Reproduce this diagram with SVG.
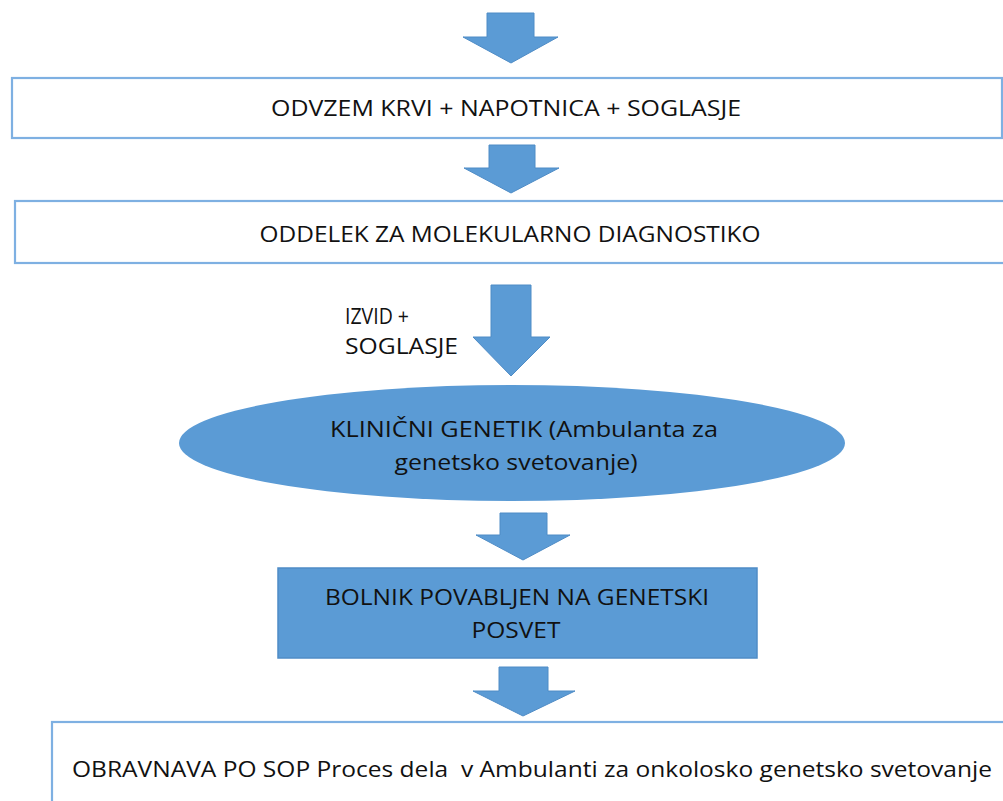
<svg xmlns="http://www.w3.org/2000/svg" width="1003" height="801" viewBox="0 0 1003 801">
<style>
.box{fill:#ffffff;stroke:#7eb0e2;stroke-width:2.2}
.fillbox{fill:#5b9bd5;stroke:#4f8cc6;stroke-width:1.5}
.arrow{fill:#5b9bd5;stroke:#4f8cc6;stroke-width:1}
.t{font-family:"Open Sans","Liberation Sans",sans-serif;font-size:21px;fill:#111111}
.c{text-anchor:middle}
</style>
<rect width="1003" height="801" fill="#ffffff"/>
<g id="connectors">
<polygon class="arrow" points="487,13 534,13 534,37 558,37 511,63 463,37 487,37"/>
<polygon class="arrow" points="489,145 535,145 535,168 559,168 511,193 464,168 489,168"/>
<polygon class="arrow" points="491,285 531,285 531,337 550,337 511,376 473,337 491,337"/>
<polygon class="arrow" points="500,513 547,513 547,535 570,535 523,560 476,535 500,535"/>
<polygon class="arrow" points="499,667 548,667 548,691 575,691 523,716 473,691 499,691"/>
<g id="label-izvid">
<text class="t" x="345" y="324" textLength="64" lengthAdjust="spacingAndGlyphs">IZVID +</text>
<text class="t" x="345" y="354" textLength="113" lengthAdjust="spacingAndGlyphs">SOGLASJE</text>
</g>
</g>
<g id="node-odvzem">
<rect class="box" x="12" y="78" width="990" height="60"/>
<text class="t c" x="506" y="116" textLength="470" lengthAdjust="spacingAndGlyphs">ODVZEM KRVI + NAPOTNICA + SOGLASJE</text>
</g>
<g id="node-oddelek">
<rect class="box" x="15" y="201" width="1000" height="62"/>
<text class="t c" x="510" y="242" textLength="501" lengthAdjust="spacingAndGlyphs">ODDELEK ZA MOLEKULARNO DIAGNOSTIKO</text>
</g>
<g id="node-genetik">
<ellipse cx="512" cy="443" rx="333" ry="58" fill="#5b9bd5"/>
<text class="t c" x="524" y="437" textLength="388" lengthAdjust="spacingAndGlyphs">KLINIČNI GENETIK (Ambulanta za</text>
<text class="t c" x="516" y="470" textLength="243" lengthAdjust="spacingAndGlyphs">genetsko svetovanje)</text>
</g>
<g id="node-bolnik">
<rect class="fillbox" x="278" y="568" width="479" height="90"/>
<text class="t c" x="517" y="605" textLength="384" lengthAdjust="spacingAndGlyphs">BOLNIK POVABLJEN NA GENETSKI</text>
<text class="t c" x="516" y="638" textLength="89" lengthAdjust="spacingAndGlyphs">POSVET</text>
</g>
<g id="node-obravnava">
<rect class="box" x="52" y="722" width="970" height="100"/>
<text class="t" x="72" y="777" textLength="920" lengthAdjust="spacingAndGlyphs" xml:space="preserve">OBRAVNAVA PO SOP Proces dela  v Ambulanti za onkolosko genetsko svetovanje</text>
</g>
</svg>
